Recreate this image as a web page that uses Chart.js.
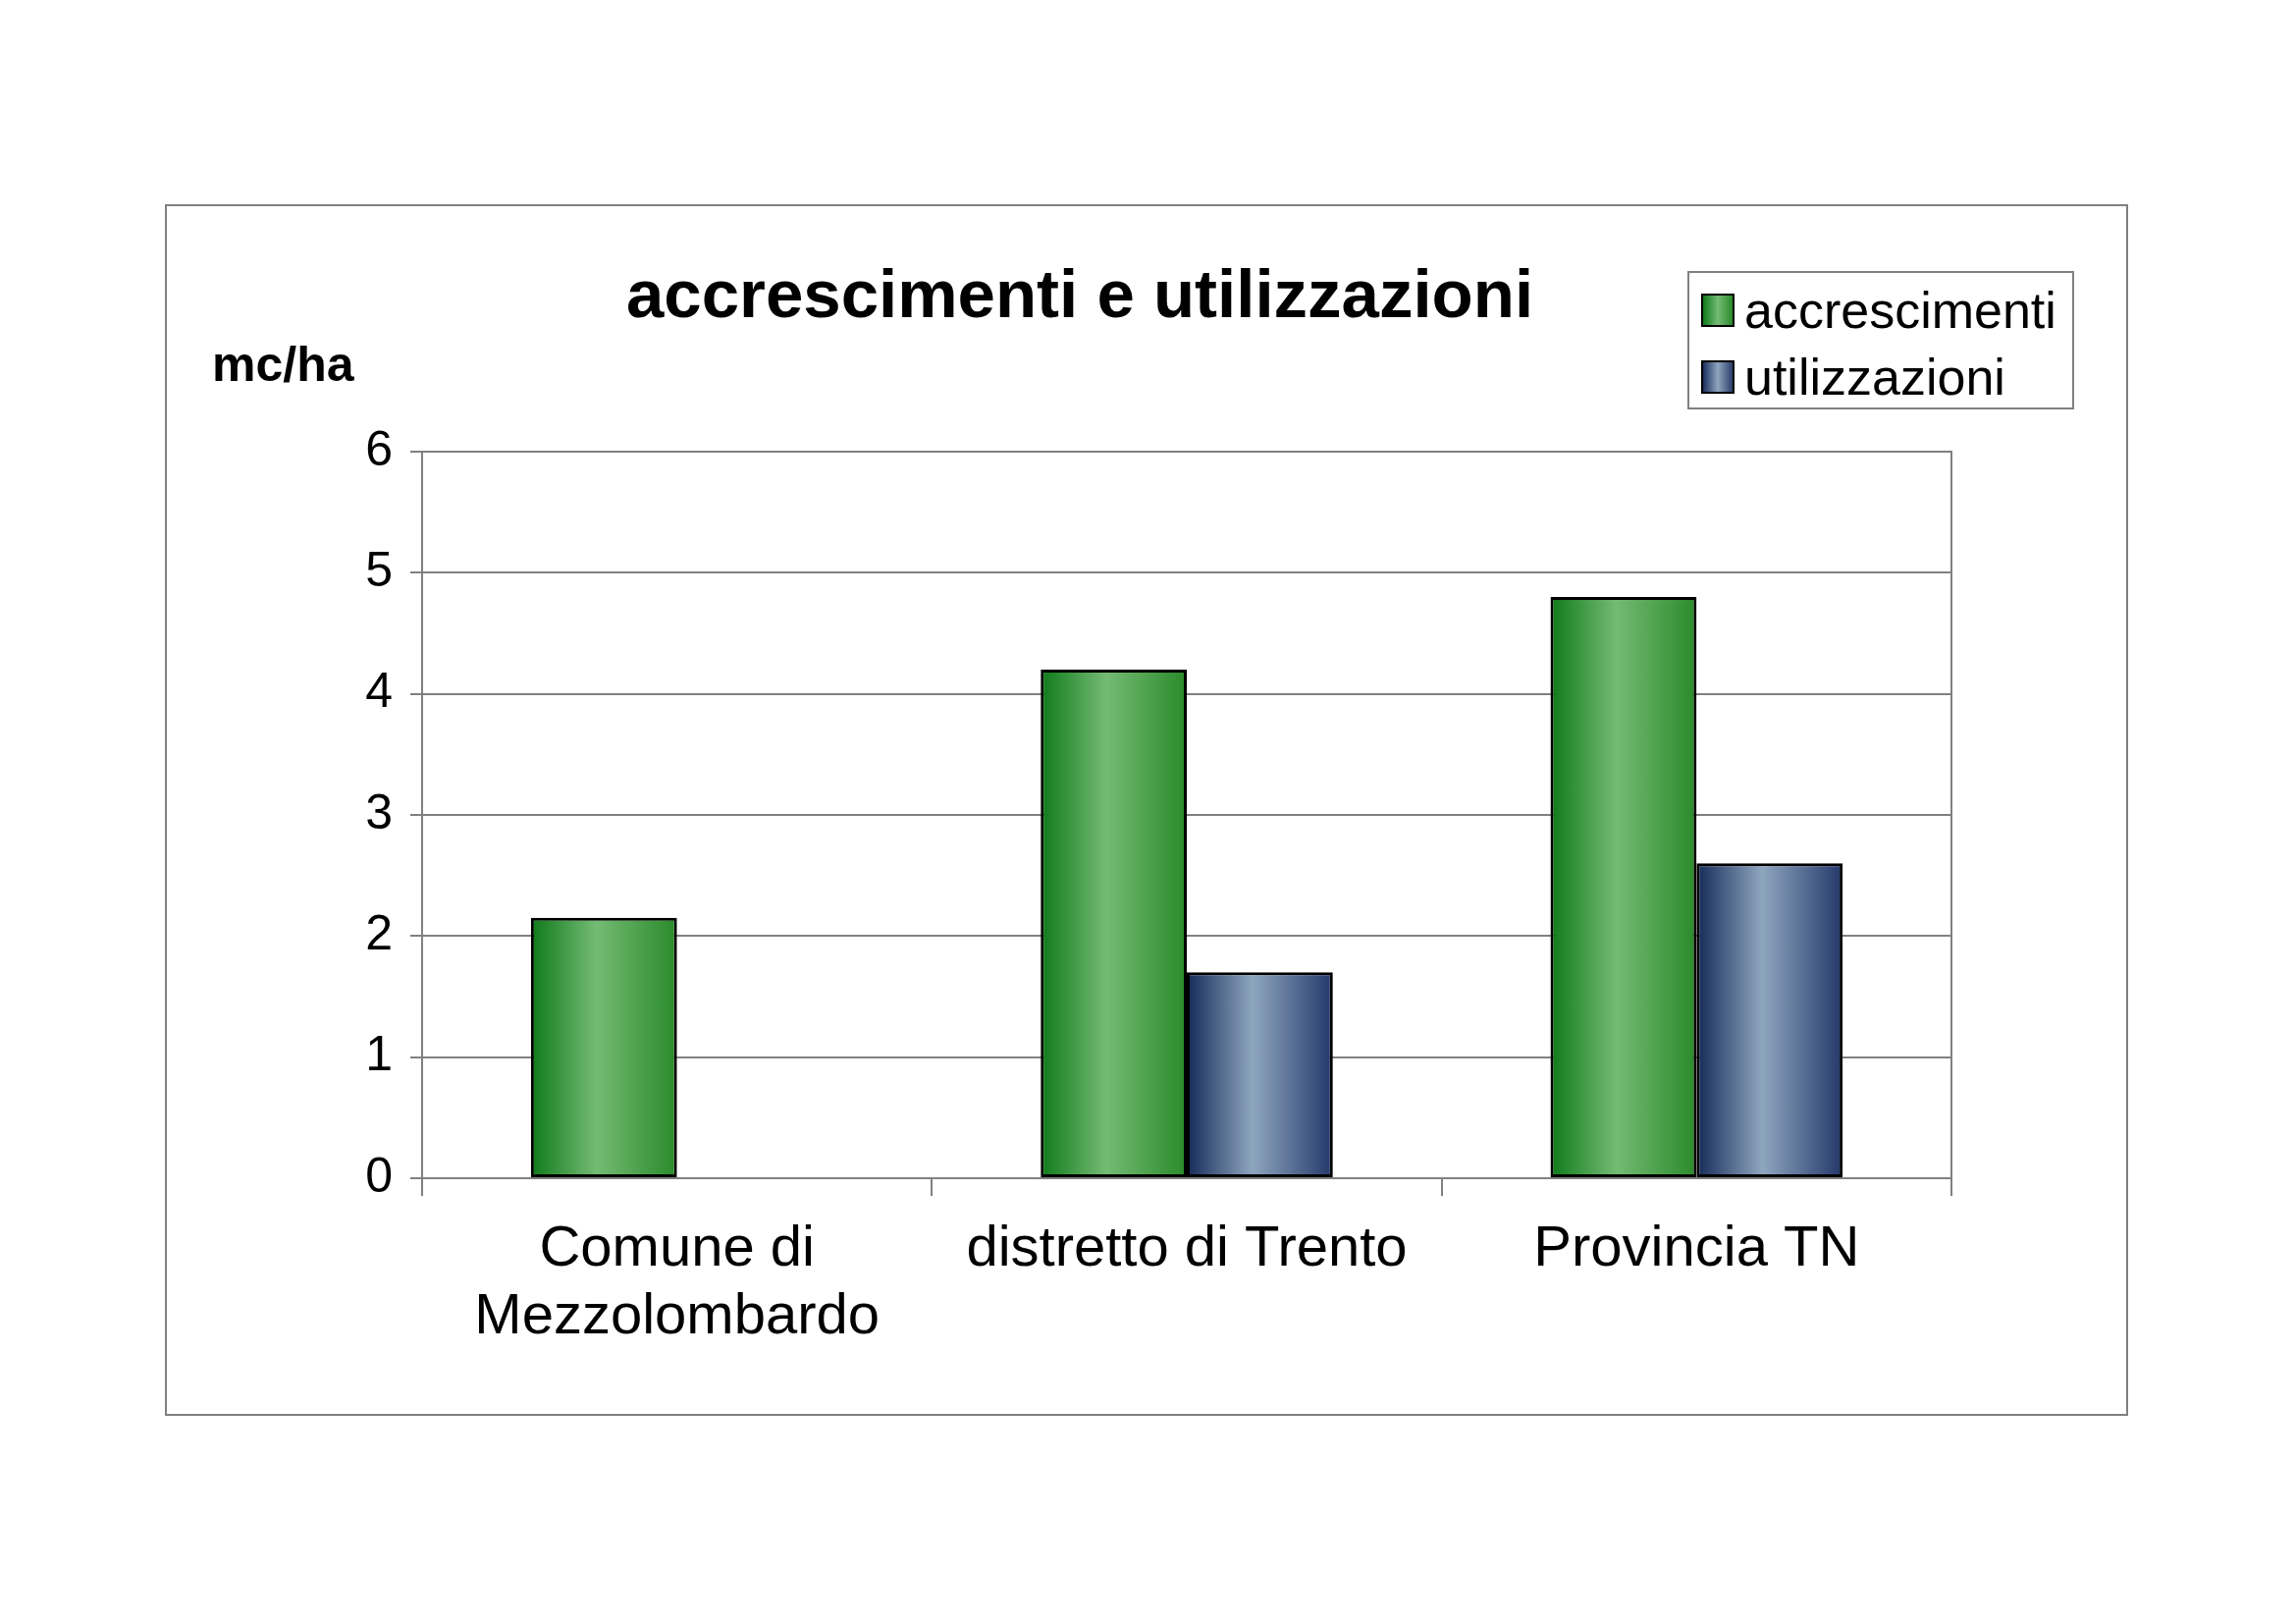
<!DOCTYPE html>
<html>
<head>
<meta charset="utf-8">
<script src="https://cdn.jsdelivr.net/npm/chart.js@4"></script>
<style>
  body { margin: 0; background: #fff; font-family: "Liberation Sans", Arial, sans-serif; }
  #frame { position: absolute; left: 168px; top: 208px; width: 1996px; height: 1230px; border: 2px solid #808080; }
  #title { position: absolute; left: 0; width: 1860px; top: 50px; text-align: center; font-weight: bold; font-size: 69px; }
  #unit { position: absolute; left: 46px; top: 132px; font-weight: bold; font-size: 50px; }
  #legend { position: absolute; left: 1549px; top: 66px; width: 390px; height: 137px; border: 2px solid #808080; font-size: 52px; }
  .item { position: absolute; left: 12px; display: flex; align-items: center; }
  .sw { width: 30px; height: 30px; border: 2px solid #000; margin-right: 10px; }
  #chart-box { position: absolute; left: 0; top: 0; width: 1996px; height: 1230px; }
</style>
</head>
<body>
<div id="frame">
  <div id="chart-box"><canvas id="myChart"></canvas></div>
  <div id="title">accrescimenti e utilizzazioni</div>
  <div id="unit">mc/ha</div>
  <div id="legend">
    <div class="item" style="top:8px"><div class="sw" style="background:linear-gradient(90deg,#0f7a1a,#74bb74,#2a8a2a)"></div>accrescimenti</div>
    <div class="item" style="top:76px"><div class="sw" style="background:linear-gradient(90deg,#1a2f5e,#8fa6bf,#2a3e6a)"></div>utilizzazioni</div>
  </div>
</div>
<script>
const categories = [["Comune di", "Mezzolombardo"], "distretto di Trento", "Provincia TN"];
const accrescimenti = [2.15, 4.2, 4.8];
const utilizzazioni = [null, 1.7, 2.6];
const yTicks = [0, 1, 2, 3, 4, 5, 6];

const gradientStops = [
  ["#0f7a1a", "#74bb74", "#2a8a2a"],
  ["#152a58", "#8fa6bf", "#24386a"],
];
const categoryPercentage = 0.573;

function barFill(context) {
  const chart = context.chart;
  const x = chart.scales && chart.scales.x;
  const stops = gradientStops[context.datasetIndex];
  if (!x || !chart.chartArea || context.dataIndex === undefined) return stops[0];
  const center = x.getPixelForValue(context.dataIndex);
  const w = (x.width / categories.length) * categoryPercentage / 2;
  const x0 = context.datasetIndex === 0 ? center - w : center;
  const g = chart.ctx.createLinearGradient(x0, 0, x0 + w, 0);
  g.addColorStop(0, stops[0]);
  g.addColorStop(0.45, stops[1]);
  g.addColorStop(1, stops[2]);
  return g;
}

const plotBorder = {
  id: "plotBorder",
  afterDraw(chart) {
    const a = chart.chartArea;
    const ctx = chart.ctx;
    ctx.save();
    ctx.strokeStyle = "#808080";
    ctx.lineWidth = 2;
    ctx.strokeRect(a.left, a.top, a.right - a.left, a.bottom - a.top);
    ctx.restore();
  },
};

Chart.defaults.font.family = '"Liberation Sans", Arial, sans-serif';
Chart.defaults.color = "#000";

new Chart(document.getElementById("myChart"), {
  type: "bar",
  data: {
    labels: categories,
    datasets: [
      { label: "accrescimenti", data: accrescimenti, backgroundColor: barFill, borderColor: "#000", borderWidth: 3, borderSkipped: false },
      { label: "utilizzazioni", data: utilizzazioni, backgroundColor: barFill, borderColor: "#000", borderWidth: 3, borderSkipped: false },
    ],
  },
  options: {
    responsive: true,
    maintainAspectRatio: false,
    animation: false,
    layout: { padding: { left: 180, top: 250, right: 178, bottom: 60 } },
    datasets: { bar: { categoryPercentage: categoryPercentage, barPercentage: 1 } },
    plugins: { legend: { display: false }, tooltip: { enabled: false } },
    scales: {
      x: {
        afterFit: (s) => { s.height = 180; },
        grid: { offset: true, drawOnChartArea: false, tickLength: 18, color: "#808080", lineWidth: 2 },
        border: { color: "#808080", width: 2 },
        ticks: { font: { size: 58 }, padding: 20, maxRotation: 0 },
      },
      y: {
        min: 0,
        max: 6,
        afterFit: (s) => { s.width = 80; },
        afterBuildTicks: (s) => { s.ticks = yTicks.map((v) => ({ value: v })); },
        grid: { color: "#808080", lineWidth: 2, tickLength: 12 },
        border: { color: "#808080", width: 2 },
        ticks: { font: { size: 50 }, padding: 18 },
      },
    },
  },
  plugins: [plotBorder],
});
</script>
</body>
</html>
